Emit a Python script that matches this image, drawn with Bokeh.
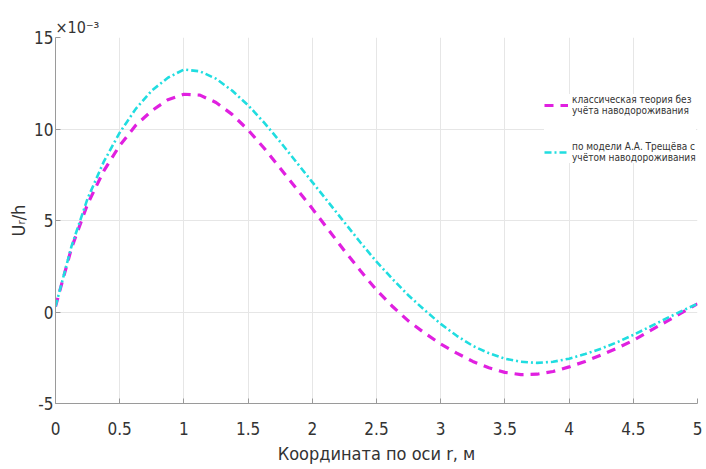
from bokeh.plotting import figure
from bokeh.models import Legend, LegendItem, FixedTicker, Range1d
from bokeh.embed import file_html
from bokeh.resources import INLINE

r_values = [0.0, 0.125, 0.25, 0.375, 0.5, 0.625, 0.75, 0.875, 1.0, 1.125, 1.25, 1.375,
            1.5, 1.625, 1.75, 1.875, 2.0, 2.125, 2.25, 2.375, 2.5, 2.625, 2.75, 2.875,
            3.0, 3.125, 3.25, 3.375, 3.5, 3.625, 3.75, 3.875, 4.0, 4.125, 4.25, 4.375,
            4.5, 4.625, 4.75, 4.875, 5.0]

classic = [0.3, 3.5, 5.9, 7.7, 9.1, 10.2, 11.0, 11.6, 11.9, 11.85, 11.45, 10.8,
           9.95, 8.95, 7.85, 6.75, 5.65, 4.5, 3.35, 2.25, 1.2, 0.3, -0.5, -1.15,
           -1.75, -2.25, -2.7, -3.05, -3.3, -3.42, -3.4, -3.25, -3.0, -2.7, -2.35, -1.97,
           -1.55, -1.05, -0.55, -0.05, 0.45]

treshchev = [0.3, 3.6, 6.2, 8.2, 9.8, 11.1, 12.1, 12.8, 13.25, 13.15, 12.75, 12.1,
             11.3, 10.35, 9.3, 8.2, 7.1, 6.0, 4.9, 3.8, 2.75, 1.8, 0.9, 0.1,
             -0.65, -1.3, -1.85, -2.25, -2.55, -2.72, -2.78, -2.72, -2.55, -2.3, -2.0, -1.65,
             -1.25, -0.82, -0.38, 0.05, 0.45]

x_ticks = [0, 0.5, 1, 1.5, 2, 2.5, 3, 3.5, 4, 4.5, 5]
y_ticks = [-5, 0, 5, 10, 15]
y_tick_labels = ["-5", "0", "5", "10", "15"]

label_classic = "классическая теория без\nучёта наводороживания"
label_tresh = "по модели А.А. Трещёва с\nучётом наводороживания"
exponent_text = "×10⁻³"

FONT = "DejaVu Sans Condensed"

p = figure(width=702, height=466, output_backend="svg", toolbar_location=None,
           x_range=Range1d(0, 5), y_range=Range1d(-5, 15),
           min_border_left=55, min_border_right=5, min_border_top=37, min_border_bottom=58)

p.outline_line_color = None
p.background_fill_color = "white"

p.title.text = exponent_text
p.title.align = "left"
p.title.text_font = FONT
p.title.text_font_size = "16px"
p.title.text_font_style = "normal"
p.title.text_color = "#333333"
p.title.standoff = 2

c_line = p.line(r_values, classic, line_color="#e020e0", line_width=3.2, line_dash="9 7")
t_line = p.line(r_values, treshchev, line_color="#20dde0", line_width=2.6, line_dash="7 3 2 3")

p.xaxis.ticker = FixedTicker(ticks=x_ticks)
p.yaxis.ticker = FixedTicker(ticks=y_ticks)
p.xaxis.major_label_overrides = {v: (str(v) if v != int(v) else str(int(v))) for v in x_ticks}
p.yaxis.major_label_overrides = dict(zip(y_ticks, y_tick_labels))

for ax in (p.xaxis[0], p.yaxis[0]):
    ax.axis_line_color = "#9a9a9a"
    ax.major_tick_line_color = "#9a9a9a"
    ax.major_tick_in = 5
    ax.major_tick_out = 0
    ax.minor_tick_line_color = None
    ax.major_label_text_font = FONT
    ax.major_label_text_font_size = "17px"
    ax.major_label_text_color = "#333333"
    ax.axis_label_text_font = FONT
    ax.axis_label_text_font_size = "18px"
    ax.axis_label_text_font_style = "normal"
    ax.axis_label_text_color = "#333333"

p.xaxis.axis_label = "Координата по оси r, м"
p.xaxis.major_label_standoff = 18
p.xaxis.axis_label_standoff = 5
p.yaxis.axis_label = "Uᵣ/h"
p.yaxis.major_label_standoff = 2
p.yaxis.axis_label_standoff = 2

p.xgrid.grid_line_color = "#e6e6e6"
p.ygrid.grid_line_color = "#e6e6e6"

legend = Legend(items=[LegendItem(label=label_classic, renderers=[c_line]),
                       LegendItem(label=label_tresh, renderers=[t_line])],
                location=(489, 240), border_line_color=None,
                background_fill_color="white", background_fill_alpha=1.0,
                label_text_font=FONT, label_text_font_size="10px",
                label_text_color="#333333", glyph_width=24, label_standoff=4,
                spacing=25, padding=5, margin=0)
p.add_layout(legend, "center")

open("out.html", "w").write(file_html(p, INLINE))
